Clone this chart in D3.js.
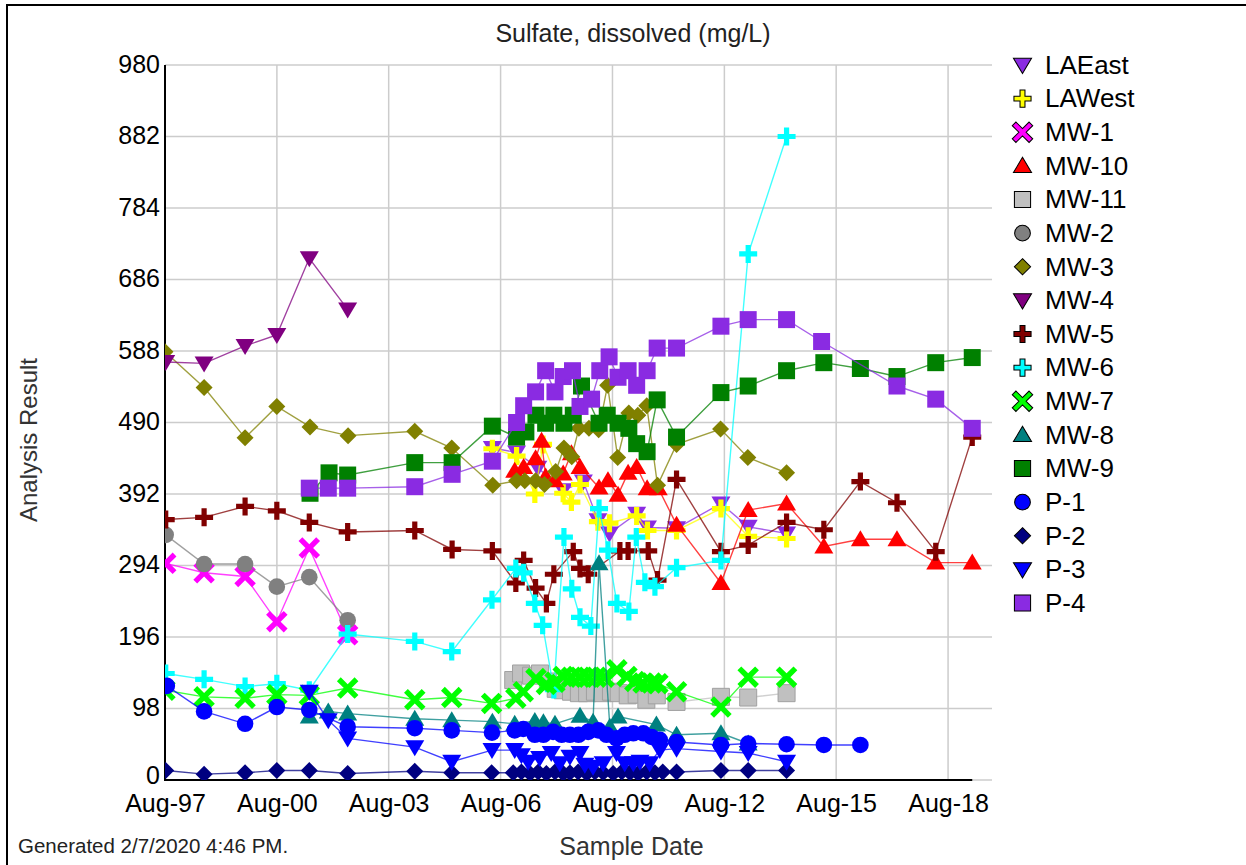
<!DOCTYPE html>
<html>
<head>
<meta charset="utf-8">
<script src="https://cdn.jsdelivr.net/npm/d3@7"></script>
<style>
  body { margin: 0; background: #fff; }
  svg { display: block; font-family: "Liberation Sans", Arial, sans-serif; }
</style>
</head>
<body>
<svg id="chart" width="1246" height="865"></svg>
<script>
// ---------------- data (decimal year, mg/L) ----------------
const seriesNames = ["LAEast","LAWest","MW-1","MW-10","MW-11","MW-2","MW-3","MW-4","MW-5","MW-6","MW-7","MW-8","MW-9","P-1","P-2","P-3","P-4"];
const seriesColors = ["#8A2BE2","#FFFF00","#FF00FF","#FF0000","#C0C0C0","#808080","#808000","#800080","#800000","#00FFFF","#00FF00","#008080","#008000","#0000FF","#000080","#0000FF","#8A2BE2"];
const seriesShapes = ["triDown","plus","x","triUp","square","circle","diamond","triDown","plus","plus","x","triUp","square","circle","diamond","triDown","square"];

const LAEast = [[2006.36,455],[2007.01,449],[2007.58,428],[2008.26,397],[2008.80,409],[2009.19,356],[2009.50,338],[2010.23,365],[2010.52,346],[2011.30,345],[2012.49,379],[2013.22,347],[2014.25,338]];
const LAWest = [[2006.36,454],[2007.01,444],[2007.50,392],[2007.72,460],[2008.26,393],[2008.48,381],[2008.71,405],[2009.19,354],[2009.50,352],[2010.23,362],[2010.52,342],[2011.30,342],[2012.49,372],[2013.22,334],[2014.25,331]];
const MW1 = [[1997.60,297],[1998.63,284],[1999.73,279],[2000.58,217],[2001.45,318],[2002.48,199]];
const MW10 = [[2006.96,424],[2007.20,429],[2007.52,441],[2007.68,465],[2007.79,416],[2008.04,411],[2008.26,420],[2008.48,448],[2008.71,429],[2009.22,401],[2009.46,411],[2009.73,391],[2010.00,421],[2010.23,429],[2010.51,400],[2010.81,400],[2011.30,350],[2012.49,270],[2013.22,370],[2014.25,379],[2015.25,320],[2016.23,330],[2017.21,330],[2018.25,298],[2019.23,298]];
const MW11 = [[2006.92,137],[2007.13,146],[2007.40,143],[2007.64,146],[2007.85,135],[2008.06,125],[2008.25,123],[2008.47,121],[2008.68,119],[2008.90,119],[2009.11,121],[2009.32,119],[2009.54,121],[2009.75,119],[2009.99,116],[2010.23,117],[2010.49,110],[2010.77,116],[2011.30,107],[2012.49,114],[2013.22,113],[2014.25,119]];
const MW2 = [[1997.60,336],[1998.63,296],[1999.73,296],[2000.58,265],[2001.45,278],[2002.48,219]];
const MW3 = [[1997.58,587],[1998.63,538],[1999.73,469],[2000.58,512],[2001.47,484],[2002.49,472],[2004.28,478],[2005.27,455],[2006.37,404],[2007.01,410],[2007.23,410],[2007.52,410],[2007.76,405],[2008.06,423],[2008.28,455],[2008.49,443],[2008.68,482],[2008.95,482],[2009.21,480],[2009.45,541],[2009.72,442],[2010.02,503],[2010.26,500],[2010.50,513],[2010.79,404],[2011.30,460],[2012.48,481],[2013.21,442],[2014.25,421]];
const MW4 = [[1997.60,573],[1998.63,571],[1999.73,595],[2000.58,610],[2001.45,715],[2002.48,645]];
const MW5 = [[1997.60,357],[1998.63,360],[1999.73,375],[2000.58,369],[2001.45,353],[2002.48,340],[2004.28,342],[2005.28,316],[2006.36,314],[2006.99,270],[2007.20,301],[2007.52,263],[2007.81,242],[2008.01,282],[2008.53,313],[2008.71,290],[2008.93,282],[2009.78,314],[2010.00,314],[2010.54,314],[2010.79,274],[2011.30,412],[2012.49,313],[2013.22,322],[2014.25,353],[2015.25,343],[2016.23,409],[2017.21,380],[2018.25,313],[2019.23,470]];
const MW6 = [[1997.60,146],[1998.63,138],[1999.73,128],[2000.58,132],[2001.45,123],[2002.48,200],[2004.28,190],[2005.27,176],[2006.35,247],[2006.99,290],[2007.20,284],[2007.50,242],[2007.71,212],[2008.01,124],[2008.28,333],[2008.49,262],[2008.71,223],[2009.00,211],[2009.22,372],[2009.46,315],[2009.70,242],[2010.02,231],[2010.22,333],[2010.45,271],[2010.72,265],[2011.30,291],[2012.49,301],[2013.22,721],[2014.25,882]];
const MW7 = [[1997.58,123],[1998.63,114],[1999.73,112],[2000.58,117],[2001.45,116],[2002.48,126],[2004.28,110],[2005.27,113],[2006.34,105],[2006.99,112],[2007.19,121],[2007.53,139],[2007.81,131],[2008.04,134],[2008.26,142],[2008.48,141],[2008.71,141],[2008.93,141],[2009.15,141],[2009.36,141],[2009.70,151],[2009.97,142],[2010.18,135],[2010.40,133],[2010.63,133],[2010.80,132],[2011.30,121],[2012.49,100],[2013.22,141],[2014.25,141]];
const MW8 = [[2001.45,87],[2001.96,94],[2002.48,91],[2004.28,84],[2005.27,82],[2006.36,80],[2006.96,77],[2007.50,81],[2007.73,79],[2008.04,77],[2008.71,88],[2009.06,80],[2009.22,297],[2009.51,73],[2009.73,87],[2010.76,76],[2011.30,62],[2012.49,64],[2013.22,50]];
const MW9 = [[2001.47,393],[2001.98,421],[2002.48,418],[2004.28,435],[2005.28,435],[2006.36,485],[2007.01,470],[2007.26,477],[2007.53,500],[2007.79,489],[2008.01,500],[2008.28,489],[2008.53,500],[2008.75,540],[2009.22,489],[2009.44,500],[2009.73,489],[2010.02,482],[2010.23,461],[2010.51,450],[2010.78,521],[2011.30,470],[2012.49,531],[2013.22,540],[2014.25,561],[2015.25,572],[2016.23,564],[2017.21,553],[2018.25,572],[2019.23,579]];
const P1 = [[1997.63,129],[1998.63,94],[1999.73,77],[2000.58,100],[2001.45,96],[2002.48,73],[2004.28,71],[2005.27,68],[2006.35,65],[2006.96,68],[2007.19,70],[2007.50,62],[2007.73,62],[2007.99,66],[2008.22,62],[2008.44,62],[2008.67,62],[2008.93,66],[2009.20,68],[2009.42,62],[2009.69,57],[2009.91,62],[2010.14,64],[2010.41,64],[2010.63,59],[2010.85,55],[2011.30,52],[2012.49,48],[2013.22,50],[2014.25,49],[2015.25,48],[2016.23,48]];
const P2 = [[1997.60,13],[1998.63,8],[1999.73,10],[2000.58,13],[2001.45,13],[2002.48,9],[2004.28,12],[2005.27,10],[2006.34,10],[2006.92,10],[2007.14,11],[2007.37,9],[2007.59,11],[2007.81,9],[2008.04,11],[2008.26,9],[2008.44,10],[2008.66,11],[2008.89,9],[2009.11,11],[2009.33,10],[2009.60,9],[2009.83,11],[2010.05,10],[2010.27,9],[2010.50,11],[2010.72,10],[2010.93,11],[2011.30,11],[2012.49,13],[2013.22,13],[2014.25,13]];
const P3 = [[2001.45,121],[2001.96,82],[2002.48,57],[2004.28,45],[2005.27,25],[2006.35,41],[2006.96,41],[2007.14,34],[2007.32,25],[2007.63,30],[2007.94,37],[2008.17,23],[2008.44,32],[2008.71,37],[2008.84,21],[2009.06,18],[2009.33,23],[2009.69,37],[2009.91,23],[2010.14,23],[2010.32,25],[2010.58,23],[2010.85,41],[2011.30,43],[2012.49,39],[2013.22,37],[2014.25,25]];
const P4 = [[2001.45,400],[2001.96,400],[2002.48,400],[2004.28,402],[2005.28,419],[2006.36,437],[2007.01,490],[2007.20,513],[2007.52,532],[2007.79,561],[2008.04,532],[2008.26,553],[2008.51,561],[2008.71,512],[2009.02,522],[2009.24,561],[2009.49,580],[2009.73,552],[2010.00,561],[2010.23,541],[2010.51,561],[2010.78,592],[2011.30,592],[2012.49,622],[2013.22,631],[2014.25,631],[2015.19,601],[2017.21,540],[2018.25,522],[2019.23,482]];

const seriesValues = [LAEast, LAWest, MW1, MW10, MW11, MW2, MW3, MW4, MW5, MW6, MW7, MW8, MW9, P1, P2, P3, P4];
const yTickValues = [0, 98, 196, 294, 392, 490, 588, 686, 784, 882, 980];
const xTickYears = [1997, 2000, 2003, 2006, 2009, 2012, 2015, 2018];

const titleText = "Sulfate, dissolved (mg/L)";
const yTitle = "Analysis Result";
const xTitle = "Sample Date";
const footText = "Generated 2/7/2020 4:46 PM.";

// ---------------- helpers ----------------
function decToDate(y) {
  const yr = Math.floor(y);
  const a = new Date(yr, 0, 1), b = new Date(yr + 1, 0, 1);
  return new Date(+a + (y - yr) * (b - a));
}

function markerPath(shape) {
  const h = 8.5;
  switch (shape) {
    case "square": return `M${-h},${-h}H${h}V${h}H${-h}Z`;
    case "circle": return d3.symbol(d3.symbolCircle, Math.PI * 8.3 * 8.3)();
    case "diamond": return `M0,${-h}L${h},0L0,${h}L${-h},0Z`;
    case "triUp": return `M0,-9L9.5,7L-9.5,7Z`;
    case "triDown": return `M0,9L9.5,-7L-9.5,-7Z`;
    case "plus": { const a = 9, t = 2.6;
      return `M${-t},${-a}H${t}V${-t}H${a}V${t}H${t}V${a}H${-t}V${t}H${-a}V${-t}H${-t}Z`; }
    case "x": { const a = 12.5, t = 2.7; const r = Math.SQRT1_2;
      const pts = [[-t,-a],[t,-a],[t,-t],[a,-t],[a,t],[t,t],[t,a],[-t,a],[-t,t],[-a,t],[-a,-t],[-t,-t]]
        .map(([x,y]) => [(x - y) * r, (x + y) * r]);
      return "M" + pts.map(p => p[0].toFixed(2) + "," + p[1].toFixed(2)).join("L") + "Z"; }
  }
}

// ---------------- layout ----------------
const svg = d3.select("#chart");
const L = 165, R = 992, T = 65, B = 780;

const x = d3.scaleTime().domain([new Date(1997, 7, 1), decToDate(2019.76)]).range([L, R]);
const y = d3.scaleLinear().domain([0, 980]).range([B, T]);

// outer frame
svg.append("rect").attr("x", 7).attr("y", 5).attr("width", 1300).attr("height", 900)
  .attr("fill", "none").attr("stroke", "#000").attr("stroke-width", 2);

// gridlines
const xTicks = xTickYears.map(yr => new Date(yr, 7, 1));
svg.append("g").selectAll("line.h").data(yTickValues).join("line")
  .attr("x1", L).attr("x2", R).attr("y1", d => y(d)).attr("y2", d => y(d))
  .attr("stroke", "#cccccc").attr("stroke-width", 1.5);
svg.append("g").selectAll("line.v").data(xTicks).join("line")
  .attr("x1", d => x(d)).attr("x2", d => x(d)).attr("y1", T).attr("y2", B)
  .attr("stroke", "#cccccc").attr("stroke-width", 1.5);

// axes
const yAxis = svg.append("g").attr("transform", `translate(${L},0)`)
  .call(d3.axisLeft(y).tickValues(yTickValues).tickSize(0).tickPadding(5));
yAxis.select(".domain").remove();
yAxis.selectAll("text").attr("font-size", 25).attr("fill", "#000")
  .attr("dy", d => d === 0 ? "0.12em" : "0.28em")
  .attr("font-family", "'Liberation Sans', Arial, sans-serif");

const xAxis = svg.append("g").attr("transform", `translate(0,${B})`)
  .call(d3.axisBottom(x).tickValues(xTicks).tickFormat(d3.timeFormat("%b-%y")).tickSize(0).tickPadding(14));
xAxis.select(".domain").remove();
xAxis.selectAll("text").attr("font-size", 25).attr("fill", "#000")
  .attr("font-family", "'Liberation Sans', Arial, sans-serif");

svg.append("line").attr("x1", L).attr("x2", L).attr("y1", T).attr("y2", B + 1)
  .attr("stroke", "#000").attr("stroke-width", 2);
svg.append("line").attr("x1", L).attr("x2", x(decToDate(2019.23))).attr("y1", B).attr("y2", B)
  .attr("stroke", "#000").attr("stroke-width", 2);

// clip
svg.append("clipPath").attr("id", "plotclip").append("rect")
  .attr("x", L).attr("y", T - 12).attr("width", R - L).attr("height", B - T + 12);

const plot = svg.append("g").attr("clip-path", "url(#plotclip)");
const line = d3.line().x(d => x(decToDate(d[0]))).y(d => y(d[1]));

seriesNames.forEach((name, i) => {
  const g = plot.append("g");
  const col = seriesColors[i];
  g.append("path").datum(seriesValues[i]).attr("d", line)
    .attr("fill", "none").attr("stroke", col).attr("stroke-width", 1.4).attr("stroke-opacity", 0.75);
  g.selectAll("path.m").data(seriesValues[i]).join("path").attr("class", "m")
    .attr("d", markerPath(seriesShapes[i]))
    .attr("transform", d => `translate(${x(decToDate(d[0]))},${y(d[1])})`)
    .attr("fill", col)
    .attr("stroke", name === "MW-11" ? "#a0a0a0" : "none")
    .attr("stroke-width", 1);
});

// legend
const lg = svg.append("g");
seriesNames.forEach((name, i) => {
  const cy = 65 + i * 33.625;
  lg.append("path").attr("d", markerPath(seriesShapes[i]))
    .attr("transform", `translate(1022.5,${cy}) scale(0.95)`)
    .attr("fill", seriesColors[i]).attr("stroke", "#000").attr("stroke-width", 1.1);
  lg.append("text").attr("x", 1045).attr("y", cy + 8.8).attr("font-size", 26)
    .attr("fill", "#000").text(name);
});

// titles
svg.append("text").attr("x", 633).attr("y", 41.5).attr("text-anchor", "middle")
  .attr("font-size", 25).attr("fill", "#222").text(titleText);
svg.append("text").attr("transform", "translate(36.5,440) rotate(-90)").attr("text-anchor", "middle")
  .attr("font-size", 24).attr("fill", "#333").text(yTitle);
svg.append("text").attr("x", 631.5).attr("y", 855).attr("text-anchor", "middle")
  .attr("font-size", 25).attr("fill", "#333").text(xTitle);
svg.append("text").attr("x", 18).attr("y", 853).attr("font-size", 20.5)
  .attr("fill", "#222").text(footText);
</script>
</body>
</html>
